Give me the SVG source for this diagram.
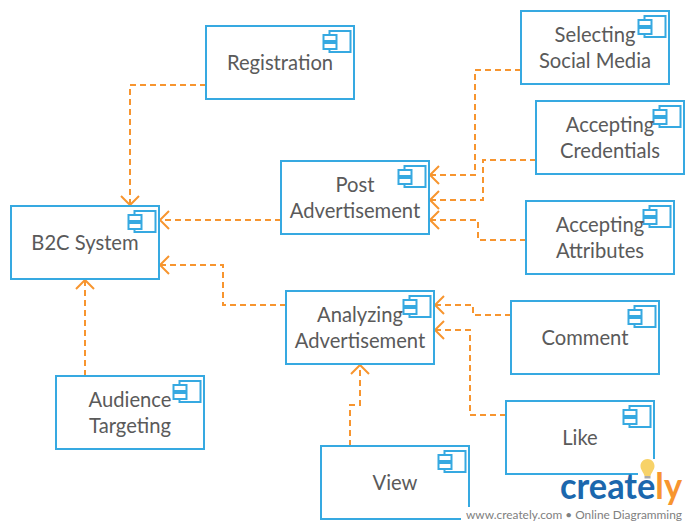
<svg xmlns="http://www.w3.org/2000/svg" xmlns:xlink="http://www.w3.org/1999/xlink" width="695" height="530" viewBox="0 0 695 530">
<style>
.box{fill:#fff;stroke:#36a9e1;stroke-width:2}
.ic{fill:#fff;stroke:#36a9e1;stroke-width:2}
.lb{font-family:Lato,"Liberation Sans",sans-serif;font-size:20.2px;fill:#5a5a5a;text-anchor:middle}
.c{fill:none;stroke:#f7952f;stroke-width:2;stroke-dasharray:6 4;}
.a{fill:none;stroke:#f7952f;stroke-width:2}
</style>
<defs>
<g id="icon">
<rect class="ic" x="6" y="0" width="21" height="21"/>
<rect class="ic" x="0" y="4" width="13" height="6"/>
<rect class="ic" x="0" y="12" width="13" height="6"/>
</g>
<path id="al" class="a" d="M9 -9L0 0L9 9"/>
</defs>
<rect width="695" height="530" fill="#fff"/>
<g id="connectors">
<path class="c" d="M206 85H130V206"/>
<use xlink:href="#al" transform="translate(130,205) rotate(-90)"/>
<path class="c" d="M281 220H160"/>
<use xlink:href="#al" transform="translate(160,220)"/>
<path class="c" d="M286 305H223V265H160"/>
<use xlink:href="#al" transform="translate(160,265)"/>
<path class="c" d="M85 376V280"/>
<use xlink:href="#al" transform="translate(85,280) rotate(90)"/>
<path class="c" d="M521 70H475V175H430"/>
<use xlink:href="#al" transform="translate(430,175)"/>
<path class="c" d="M536 160H483V200H430"/>
<use xlink:href="#al" transform="translate(430,200)"/>
<path class="c" d="M526 240H478V220H430"/>
<use xlink:href="#al" transform="translate(430,220)"/>
<path class="c" d="M511 315H473V305H435"/>
<use xlink:href="#al" transform="translate(435,305)"/>
<path class="c" d="M506 415H470V330H435"/>
<use xlink:href="#al" transform="translate(435,330)"/>
<path class="c" d="M350 446V405H360V365"/>
<use xlink:href="#al" transform="translate(360,365) rotate(90)"/>
</g>
<g id="n-registration"><rect class="box" x="206" y="26" width="148" height="73"/><use xlink:href="#icon" x="323.5" y="31"/><text class="lb" x="280" y="70">Registration</text></g>
<g id="n-post"><rect class="box" x="281" y="161" width="148" height="73"/><use xlink:href="#icon" x="398.5" y="166"/><text class="lb" x="355" y="192">Post</text><text class="lb" x="355" y="218">Advertisement</text></g>
<g id="n-b2c"><rect class="box" x="11" y="206" width="148" height="73"/><use xlink:href="#icon" x="128.500" y="211"/><text class="lb" x="85" y="250">B2C System</text></g>
<g id="n-selecting"><rect class="box" x="521" y="11" width="148" height="73"/><use xlink:href="#icon" x="638.5" y="16"/><text class="lb" x="595" y="42">Selecting</text><text class="lb" x="595" y="68">Social Media</text></g>
<g id="n-credentials"><rect class="box" x="536" y="101" width="148" height="73"/><use xlink:href="#icon" x="653.5" y="106"/><text class="lb" x="610" y="132">Accepting</text><text class="lb" x="610" y="158">Credentials</text></g>
<g id="n-attributes"><rect class="box" x="526" y="201" width="148" height="73"/><use xlink:href="#icon" x="643.5" y="206"/><text class="lb" x="600" y="232">Accepting</text><text class="lb" x="600" y="258">Attributes</text></g>
<g id="n-analyzing"><rect class="box" x="286" y="291" width="148" height="73"/><use xlink:href="#icon" x="403.5" y="296"/><text class="lb" x="360" y="322">Analyzing</text><text class="lb" x="360" y="348">Advertisement</text></g>
<g id="n-comment"><rect class="box" x="511" y="301" width="148" height="73"/><use xlink:href="#icon" x="628.5" y="306"/><text class="lb" x="585" y="345">Comment</text></g>
<g id="n-like"><rect class="box" x="506" y="401" width="148" height="73"/><use xlink:href="#icon" x="623.5" y="406"/><text class="lb" x="580" y="445">Like</text></g>
<g id="n-view"><rect class="box" x="321" y="446" width="148" height="73"/><use xlink:href="#icon" x="438.5" y="451"/><text class="lb" x="395" y="490">View</text></g>
<g id="n-audience"><rect class="box" x="56" y="376" width="148" height="73"/><use xlink:href="#icon" x="173.5" y="381"/><text class="lb" x="130" y="407">Audience</text><text class="lb" x="130" y="433">Targeting</text></g>
<g id="watermark">
<rect x="461" y="507" width="234" height="23" fill="#fff"/>
<rect x="638" y="459" width="19" height="21" fill="#fff"/>
<path d="M647.500 459c-5 0-7 4-7 7c0 4 3 6 4 10h6c1-4 4-6 4-10c0-3-2-7-7-7z" fill="#f7d268"/>
<rect x="644.500" y="476" width="6" height="2.500" fill="#aaa"/>
<text x="560" y="499" font-family="Lato,'Liberation Sans',sans-serif" font-size="36" font-weight="700" fill="#1b67ad" textLength="122" lengthAdjust="spacingAndGlyphs">create<tspan fill="#f7952f">ly</tspan></text>
<text x="466" y="519" font-family="Lato,'Liberation Sans',sans-serif" font-size="12" fill="#808080" textLength="216" lengthAdjust="spacingAndGlyphs">www.creately.com • Online Diagramming</text>
</g>
</svg>
